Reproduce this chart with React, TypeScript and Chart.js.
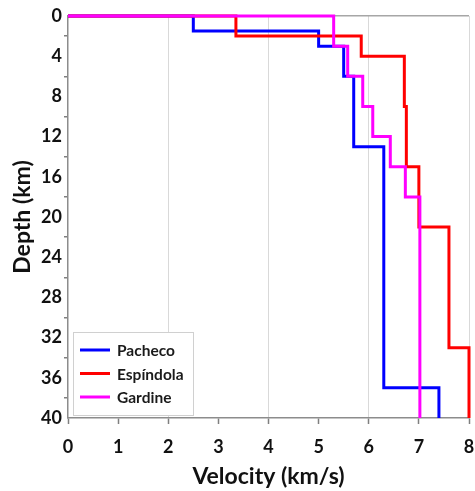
import React, { useEffect, useRef } from 'react';
import { Chart, registerables } from 'chart.js';

Chart.register(...registerables);

// Velocity models: layer velocity (km/s) and depth of each layer top (km)
const DEPTH_MAX = 40;
const VELOCITY_MAX = 8;

const pachecoVelocity = [2.5, 5.0, 5.5, 5.7, 6.3, 7.4];
const pachecoTops = [0, 1.5, 3, 6, 13, 37];

const espindolaVelocity = [3.35, 5.85, 6.71, 6.75, 7.0, 7.6, 8.0];
const espindolaTops = [0, 2, 4, 9, 15, 21, 33];

const gardineVelocity = [5.3, 5.58, 5.88, 6.08, 6.43, 6.73, 7.02];
const gardineTops = [0, 3, 6, 9, 12, 15, 18];

const seriesNames = ['Pacheco', 'Espíndola', 'Gardine'];
const seriesColors = ['#0000ff', '#ff0000', '#ff00ff'];

const FONT = 'Lato, "Open Sans", "DejaVu Sans", sans-serif';

// Turn a layered model into a step profile starting at the surface origin
function profile(velocity: number[], tops: number[]) {
  const pts: { x: number; y: number }[] = [{ x: 0, y: 0 }];
  velocity.forEach((v, i) => {
    const bottom = i + 1 < tops.length ? tops[i + 1] : DEPTH_MAX;
    pts.push({ x: v, y: tops[i] });
    pts.push({ x: v, y: bottom });
  });
  return pts;
}

// Boxed legend drawn inside the lower-left corner of the plot area
const insideLegend = {
  id: 'insideLegend',
  afterDraw(chart: any) {
    const { ctx, chartArea } = chart;
    const x = chartArea.left + 5;
    const w = 120;
    const h = 83;
    const y = chartArea.bottom - 3 - h;
    ctx.save();
    ctx.fillStyle = '#ffffff';
    ctx.fillRect(x, y, w, h);
    ctx.strokeStyle = '#d0d0d0';
    ctx.lineWidth = 1;
    ctx.strokeRect(x + 0.5, y + 0.5, w, h);
    ctx.font = `bold 15.5px ${FONT}`;
    ctx.textBaseline = 'middle';
    ctx.textAlign = 'left';
    chart.data.datasets.forEach((ds: any, i: number) => {
      const rowY = y + 18 + i * 23.5;
      ctx.strokeStyle = ds.borderColor;
      ctx.lineWidth = 3;
      ctx.beginPath();
      ctx.moveTo(x + 7, rowY);
      ctx.lineTo(x + 37, rowY);
      ctx.stroke();
      ctx.fillStyle = '#1a1a1a';
      ctx.fillText(ds.label, x + 44, rowY + 1);
    });
    ctx.restore();
  },
};

export default function App() {
  const canvasRef = useRef<HTMLCanvasElement | null>(null);

  useEffect(() => {
    document.body.style.margin = '0';
    const canvas = canvasRef.current;
    if (!canvas) return;

    const models = [
      [pachecoVelocity, pachecoTops],
      [espindolaVelocity, espindolaTops],
      [gardineVelocity, gardineTops],
    ];

    const chart = new Chart(canvas, {
      type: 'scatter',
      data: {
        datasets: models.map(([v, t], i) => ({
          label: seriesNames[i],
          data: profile(v, t),
          showLine: true,
          borderColor: seriesColors[i],
          backgroundColor: seriesColors[i],
          borderWidth: 3,
          pointRadius: 0,
          pointHoverRadius: 0,
          fill: false,
          clip: false,
          order: 3 - i,
        })),
      },
      options: {
        animation: false,
        responsive: false,
        maintainAspectRatio: false,
        layout: { padding: { top: 16, right: 6, left: 0, bottom: 0 } },
        plugins: {
          legend: { display: false },
          tooltip: { enabled: false },
        },
        scales: {
          x: {
            type: 'linear',
            position: 'bottom',
            min: 0,
            max: VELOCITY_MAX,
            afterFit: (scale: any) => {
              scale.height = 73;
              scale.paddingLeft = 0;
              scale.paddingRight = 6;
            },
            ticks: {
              stepSize: 1,
              color: '#111111',
              padding: 12,
              font: { family: FONT, size: 18, weight: 'bold' },
              maxRotation: 0,
            },
            grid: {
              drawOnChartArea: true,
              color: (ctx: any) =>
                ctx.tick && ctx.tick.value > 0 && ctx.tick.value % 2 === 0
                  ? '#d9d9d9'
                  : 'rgba(0,0,0,0)',
              tickColor: '#7f7f7f',
              tickLength: 6,
              tickWidth: 1.5,
              lineWidth: 1,
            },
            border: { color: '#8c8c8c', width: 1.5 },
            title: {
              display: true,
              text: 'Velocity (km/s)',
              color: '#111111',
              font: { family: FONT, size: 23, weight: 'bold' },
              padding: { top: 0, bottom: 1 },
            },
          },
          y: {
            type: 'linear',
            reverse: true,
            min: 0,
            max: DEPTH_MAX,
            afterFit: (scale: any) => {
              scale.width = 68;
            },
            ticks: {
              stepSize: 2,
              autoSkip: false,
              color: '#111111',
              padding: 2,
              font: { family: FONT, size: 18, weight: 'bold' },
              callback: (value: any) => (Number(value) % 4 === 0 ? String(value) : ''),
            },
            grid: {
              drawOnChartArea: true,
              color: (ctx: any) =>
                ctx.tick && ctx.tick.value === 0 ? '#a6a6a6' : 'rgba(0,0,0,0)',
              tickColor: (ctx: any) =>
                ctx.tick && ctx.tick.value % 4 === 2 ? '#7f7f7f' : 'rgba(0,0,0,0)',
              tickLength: 4,
              tickWidth: 1.5,
              lineWidth: 1.5,
            },
            border: { color: '#8c8c8c', width: 1.5 },
            title: {
              display: true,
              text: 'Depth (km)',
              color: '#111111',
              font: { family: FONT, size: 23, weight: 'bold' },
              padding: { top: 9, bottom: 0 },
            },
          },
        },
      },
      plugins: [insideLegend],
    } as any);

    return () => chart.destroy();
  }, []);

  return (
    <div style={{ width: 475, height: 491, position: 'relative', background: '#ffffff' }}>
      <canvas ref={canvasRef} width={475} height={491} style={{ display: 'block' }} />
    </div>
  );
}
